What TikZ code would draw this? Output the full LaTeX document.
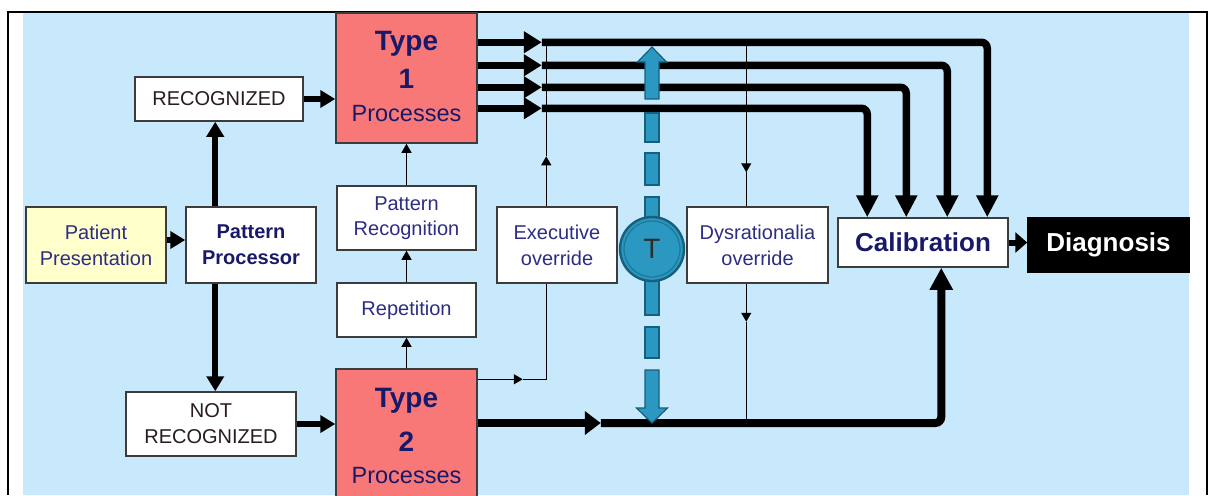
\documentclass[tikz,border=0pt]{standalone}
\usepackage{fontspec}
\setmainfont{Liberation Sans}
\usetikzlibrary{arrows.meta,calc}
\definecolor{bgblue}{RGB}{200,233,252}
\definecolor{salmon}{RGB}{248,120,120}
\definecolor{paleyellow}{RGB}{255,255,204}
\definecolor{navy}{RGB}{25,25,105}
\definecolor{softnavy}{RGB}{45,45,130}
\definecolor{darkbrown}{RGB}{40,28,28}
\definecolor{boxline}{RGB}{60,60,60}
\definecolor{tealT}{RGB}{42,152,192}
\definecolor{tealdark}{RGB}{22,95,125}
\definecolor{tgray}{RGB}{45,45,45}
\begin{document}
\begin{tikzpicture}[x=0.5pt,y=-0.5pt,
  box/.style={draw=boxline,line width=0.75pt,fill=white,inner sep=0pt,align=center,
    font=\fontsize{10pt}{13pt}\selectfont,text=softnavy},
  typebox/.style={draw=boxline,line width=0.75pt,fill=salmon,inner sep=0pt},
  typebig/.style={font=\fontsize{14pt}{14pt}\selectfont\bfseries,text=navy,anchor=base,inner sep=0pt},
  typesmall/.style={font=\fontsize{11.75pt}{12pt}\selectfont,text=navy,anchor=base,inner sep=0pt},
  thin/.style={line width=0.6pt,black},
  thintip/.style={-{Triangle[length=4.5pt,width=5pt]}},
  med/.style={line width=3pt,-{Triangle[length=7.5pt,width=8.5pt]}},
  big/.style={line width=3.75pt},
  midtip/.style={-{Triangle[length=9pt,width=10.5pt]}},
  droptip/.style={-{Triangle[length=11pt,width=10.5pt]}},
  bluebar/.style={fill=tealT,draw=tealdark,line width=0.6pt}
]
\useasboundingbox (0,0) rectangle (1213,495);
\fill[white] (0,0) rectangle (1213,495);
\fill[bgblue] (23,13) rectangle (1189,495);
\draw[line width=1pt] (8,495) -- (8,12) -- (1207,12) -- (1207,495);

% boxes
\node[box,fill=paleyellow,minimum width=70pt,minimum height=38pt] (pat) at (96,245) {Patient\\Presentation};
\node[box,font=\fontsize{10pt}{13pt}\selectfont\bfseries,text=navy,minimum width=65pt,minimum height=38pt] (pp) at (251,245) {Pattern\\Processor};
\node[box,text=darkbrown,minimum width=84pt,minimum height=22pt] (rec) at (219,99) {RECOGNIZED};
\node[box,text=darkbrown,minimum width=85pt,minimum height=32pt] (nrec) at (211,424) {NOT\\RECOGNIZED};
\node[typebox,minimum width=70.5pt,minimum height=65pt] (t1) at (406.5,78) {};
\node[typebig] (t1a) at (406.5,50) {Type};
\node[typebig] (t1b) at (406.5,88) {1};
\node[typesmall] (t1c) at (406.5,121) {Processes};
\node[typebox,minimum width=70.5pt,minimum height=65pt] (t2) at (406.5,434) {};
\node[typebig] (t2a) at (406.5,407) {Type};
\node[typebig] (t2b) at (406.5,451) {2};
\node[typesmall] (t2c) at (406.5,483) {Processes};
\node[box,font=\fontsize{10pt}{12.5pt}\selectfont,minimum width=69.5pt,minimum height=32pt] (prec) at (406.5,218) {Pattern\\Recognition};
\node[box,minimum width=69.5pt,minimum height=27pt] (rep) at (406.5,310) {Repetition};
\node[box,minimum width=60pt,minimum height=38pt] (exo) at (557,245) {Executive\\override};
\node[box,minimum width=70.5pt,minimum height=38pt] (dys) at (757.5,245) {Dysrationalia\\override};
\node[box,font=\fontsize{13pt}{13pt}\selectfont\bfseries,text=navy,minimum width=85pt,minimum height=24.5pt] (cal) at (923,242.5) {Calibration};
\node[box,fill=black,draw=black,font=\fontsize{13pt}{13pt}\selectfont\bfseries,text=white,minimum width=80.5pt,minimum height=27pt] (diag) at (1108.5,245) {Diagnosis};

% left connectors
\coordinate (ppup) at ($(pp.north west)+(30,0)$);
\coordinate (ppdn) at ($(pp.south west)+(30,0)$);
\coordinate (patout) at ($(pat.east)+(0,-5)$);
\draw[med] (ppup) -- (ppup |- rec.south);
\draw[med] (ppdn) -- (ppdn |- nrec.north);
\draw[med] (patout) -- (patout -| pp.west);
\draw[med] (rec.east) -- (rec.east -| t1.west);
\draw[med] (nrec.east) -- (nrec.east -| t2.west);
\draw[thin,thintip] (t2.north) -- (rep.south);
\draw[thin,thintip] (rep.north) -- (prec.south);
\draw[thin,thintip] (prec.north) -- (t1.south);

% Type 1 to Calibration
\foreach \i/\dy/\dx in {1/30/150, 2/53/110, 3/75/69, 4/96/30} {
  \coordinate (s\i) at ($(t1.north east)+(0,\dy)$);
  \coordinate (m\i) at ($(s\i)+(64,0)$);
  \coordinate (e\i) at ($(cal.north west)+(\dx,0)$);
  \draw[big,midtip] (s\i) -- (m\i);
  \draw[big,droptip,rounded corners=3pt] (m\i) -| (e\i);
}

% Type 2 to Calibration
\coordinate (b0) at ($(t2.east)+(0,-11)$);
\coordinate (bm) at ($(b0)+(123,0)$);
\coordinate (bup) at ($(cal.south west)+(104,0)$);
\draw[line width=4pt,-{Triangle[length=8pt,width=11.5pt]}] (b0) -- (bm);
\draw[line width=4pt,-{Triangle[length=11pt,width=11pt]},rounded corners=3pt] (bm) -| (bup);

% Calibration to Diagnosis
\draw[line width=3pt,-{Triangle[length=6pt,width=10pt]}] (cal.east) -- (cal.east -| diag.west);

% executive override
\coordinate (eup) at ($(exo.north west)+(50,0)$);
\coordinate (emid) at ($(eup)+(0,-50)$);
\draw[thin,thintip] (eup) -- (emid);
\draw[thin] (emid) -- (eup |- s1);
\coordinate (edn) at ($(exo.south west)+(50,0)$);
\coordinate (t2o) at ($(t2.north east)+(0,11)$);
\coordinate (t2m) at ($(t2o)+(45,0)$);
\draw[thin,thintip] (t2o) -- (t2m);
\draw[thin] (t2m) -| (edn);

% dysrationalia override
\coordinate (dtop) at ($(dys.north west)+(60,0)$);
\coordinate (dmid1) at ($(dtop)+(0,-34)$);
\draw[thin,thintip] (dtop |- s1) -- (dmid1);
\draw[thin] (dmid1) -- (dtop);
\coordinate (dbot) at ($(dys.south west)+(60,0)$);
\coordinate (dmid2) at ($(dbot)+(0,38)$);
\draw[thin,thintip] (dbot) -- (dmid2);
\draw[thin] (dmid2) -- (dmid2 |- b0);

% T dashed double arrow
\draw[bluebar] (645,99) -- (645,62) -- (637.5,62) -- (652,47) -- (666.5,62) -- (659,62) -- (659,99) -- cycle;
\draw[bluebar] (645,113) rectangle (659,142);
\draw[bluebar] (645,153) rectangle (659,185);
\draw[bluebar] (645,197) rectangle (659,222);
\draw[bluebar] (645,276) rectangle (659,315);
\draw[bluebar] (645,327) rectangle (659,358);
\draw[bluebar] (645,370) -- (645,408) -- (636.5,408) -- (652,423) -- (667.5,408) -- (659,408) -- (659,370) -- cycle;
\node[circle,fill=tealT,draw=tealdark,line width=1.2pt,minimum size=32pt,inner sep=0pt,
  font=\fontsize{14pt}{14pt}\selectfont,text=tgray] (T) at (652,249) {T};
\draw[tealdark!60!tealT,line width=0.6pt] (T.center) circle[radius=14pt];
\end{tikzpicture}
\end{document}
